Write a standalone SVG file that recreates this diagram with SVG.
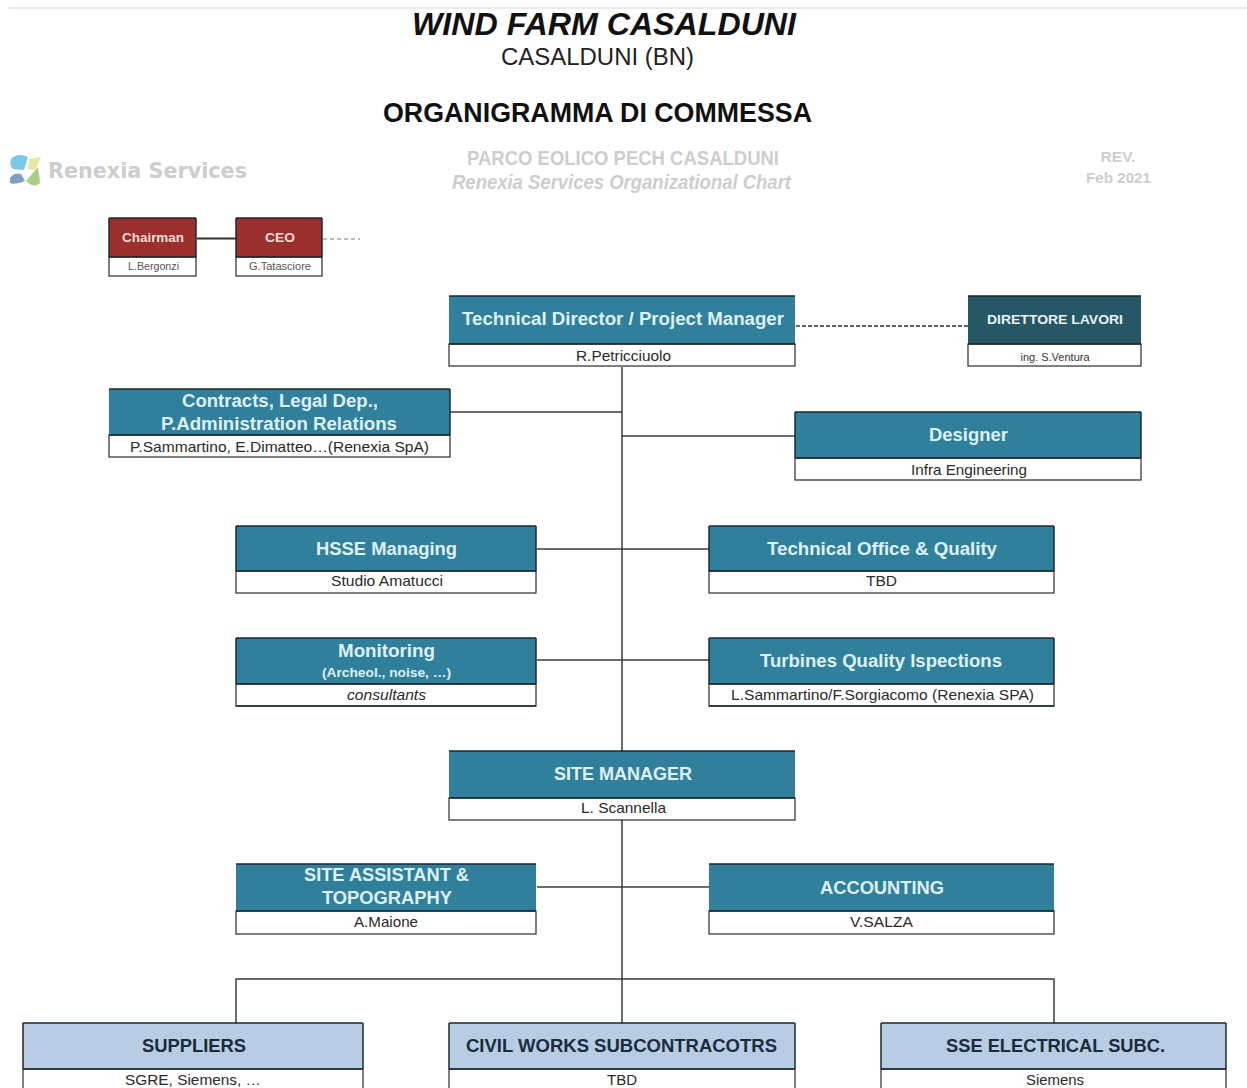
<svg xmlns="http://www.w3.org/2000/svg" width="1247" height="1088" viewBox="0 0 1247 1088">
<style>
text{font-family:"Liberation Sans",Arial,sans-serif;text-anchor:middle}
.hd{stroke:#1c2a30;stroke-width:1.5;fill:none}
.b{fill:#fff;stroke:#2b2b2b;stroke-width:1.2}
.t{fill:#30809c}.r{fill:#9a2f2c}.d{fill:#265765}.l{fill:#b8cce4}
.w{fill:#dff0f4;font-weight:bold;font-size:18px}
.k{fill:#1a2b3c;font-weight:bold;font-size:18px}
.s{fill:#2a2a2a;font-size:14.5px}
.c{fill:none;stroke:#3d3d3d;stroke-width:1.5}
.g{fill:#cdcdcd;font-weight:bold}
</style>
<rect width="1247" height="1088" fill="#fff"/>
<path d="M9 8H1247" stroke="#d8d8d8" fill="none"/>
<text x="604" y="35" font-size="32" font-weight="bold" font-style="italic" fill="#111" textLength="384" lengthAdjust="spacingAndGlyphs">WIND FARM CASALDUNI</text>
<text x="597.500" y="65" font-size="23" fill="#222" textLength="193" lengthAdjust="spacingAndGlyphs">CASALDUNI (BN)</text>
<text x="597.500" y="122" font-size="27" font-weight="bold" fill="#111" textLength="429" lengthAdjust="spacingAndGlyphs">ORGANIGRAMMA DI COMMESSA</text>
<g id="logo">
<path d="M11 159Q18 152 28 157L24 170L13 169Q9 165 11 159Z" fill="#7cc6e6"/>
<path d="M29 159L41 157L35 170L28 169Z" fill="#e6e6a0"/>
<path d="M10 178Q14 172 21 174L25 181Q14 185 10 183Z" fill="#7f9fc6"/>
<path d="M26 181L38 167L40 183Q34 189 26 181Z" fill="#a8d088"/>
<text x="147.500" y="178" class="g" style="font-family:'DejaVu Sans',sans-serif;font-size:21.500px" textLength="199" lengthAdjust="spacingAndGlyphs">Renexia Services</text>
</g>
<text x="623" y="165" font-size="19.500" class="g" textLength="312" lengthAdjust="spacingAndGlyphs">PARCO EOLICO PECH CASALDUNI</text>
<text x="621.500" y="189" font-size="19.500" class="g" font-style="italic" textLength="339" lengthAdjust="spacingAndGlyphs">Renexia Services Organizational Chart</text>
<text x="1118" y="162" font-size="15" class="g" textLength="35" lengthAdjust="spacingAndGlyphs">REV.</text>
<text x="1118.500" y="183" font-size="15" class="g" textLength="65" lengthAdjust="spacingAndGlyphs">Feb 2021</text>
<g id="connectors">
<path class="c" d="M622 367V1023M450 412H622M622 436H795M537 549H709M537 660H709M537 887H709M236 1023V979H1054V1023"/>
<path d="M197 238.500H236" fill="none" stroke="#333" stroke-width="2"/>
<path d="M796 326H968" fill="none" stroke="#333" stroke-width="1.300" stroke-dasharray="4 2"/>
<path d="M323 239H360" fill="none" stroke="#777" stroke-width="1.200" stroke-dasharray="4 3"/>
</g>
<g id="chairman"><rect class="r" x="109" y="218" width="87" height="39"/><rect class="b" x="109" y="257" width="87" height="19"/><path class="hd" d="M109 218H196M109 257H196M109 218V257M196 218V257"/><text x="153" y="242" font-size="13" font-weight="bold" fill="#f4dcdc" textLength="62" lengthAdjust="spacingAndGlyphs">Chairman</text><text x="153.500" y="270" font-size="10.500" fill="#555" textLength="51" lengthAdjust="spacingAndGlyphs">L.Bergonzi</text></g>
<g id="ceo"><rect class="r" x="236" y="218" width="86" height="39"/><rect class="b" x="236" y="257" width="86" height="19"/><path class="hd" d="M236 218H322M236 257H322M236 218V257M322 218V257"/><text x="280" y="242" font-size="13" font-weight="bold" fill="#f4dcdc" textLength="30" lengthAdjust="spacingAndGlyphs">CEO</text><text x="280" y="270" font-size="10.500" fill="#555" textLength="62" lengthAdjust="spacingAndGlyphs">G.Tatasciore</text></g>
<g id="technical-director"><rect class="t" x="449" y="296" width="346" height="48"/><rect class="b" x="449" y="344" width="346" height="22"/><path class="hd" d="M449 296H795M449 344H795"/><text x="623" y="325" class="w" textLength="322" lengthAdjust="spacingAndGlyphs">Technical Director / Project Manager</text><text x="623.500" y="361" class="s" textLength="95" lengthAdjust="spacingAndGlyphs">R.Petricciuolo</text></g>
<g id="direttore-lavori"><rect class="d" x="968" y="296" width="173" height="48"/><rect class="b" x="968" y="344" width="173" height="22"/><path class="hd" d="M968 296H1141M968 344H1141"/><text x="1055" y="324" font-size="13" font-weight="bold" fill="#e8f2f5" textLength="136" lengthAdjust="spacingAndGlyphs">DIRETTORE LAVORI</text><text x="1055" y="361" font-size="11" fill="#333">ing. S.Ventura</text></g>
<g id="contracts"><rect class="t" x="109" y="389" width="341" height="46"/><rect class="b" x="109" y="435" width="341" height="22"/><path class="hd" d="M109 389H450M109 435H450M450 389V435"/><text x="280" y="407" class="w" textLength="196" lengthAdjust="spacingAndGlyphs">Contracts, Legal Dep.,</text><text x="279" y="430" class="w" textLength="236" lengthAdjust="spacingAndGlyphs">P.Administration Relations</text><text x="279.500" y="452" class="s" textLength="299" lengthAdjust="spacingAndGlyphs">P.Sammartino, E.Dimatteo…(Renexia SpA)</text></g>
<g id="designer"><rect class="t" x="795" y="412" width="346" height="46"/><rect class="b" x="795" y="458" width="346" height="22"/><path class="hd" d="M795 412H1141M795 458H1141M795 412V458M1141 412V458"/><text x="968.500" y="441" class="w" textLength="79" lengthAdjust="spacingAndGlyphs">Designer</text><text x="969" y="475" class="s" textLength="116" lengthAdjust="spacingAndGlyphs">Infra Engineering</text></g>
<g id="hsse"><rect class="t" x="236" y="526" width="300" height="45"/><rect class="b" x="236" y="571" width="300" height="22"/><path class="hd" d="M236 526H536M236 571H536M236 526V571M536 526V571"/><text x="386.500" y="555" class="w" textLength="141" lengthAdjust="spacingAndGlyphs">HSSE Managing</text><text x="387" y="586" class="s" textLength="112" lengthAdjust="spacingAndGlyphs">Studio Amatucci</text></g>
<g id="technical-office"><rect class="t" x="709" y="526" width="345" height="45"/><rect class="b" x="709" y="571" width="345" height="22"/><path class="hd" d="M709 526H1054M709 571H1054M709 526V571M1054 526V571"/><text x="882" y="555" class="w" textLength="230" lengthAdjust="spacingAndGlyphs">Technical Office &amp; Quality</text><text x="881.500" y="586" class="s" textLength="31" lengthAdjust="spacingAndGlyphs">TBD</text></g>
<g id="monitoring"><rect class="t" x="236" y="638" width="300" height="46"/><rect class="b" x="236" y="684" width="300" height="22"/><path class="hd" d="M236 638H536M236 684H536M236 706H536M236 638V684M536 638V684"/><text x="386.500" y="657" class="w" textLength="97" lengthAdjust="spacingAndGlyphs">Monitoring</text><text x="386.500" y="677" font-size="12" font-weight="bold" fill="#dff0f4" textLength="129" lengthAdjust="spacingAndGlyphs">(Archeol., noise, …)</text><text x="386.500" y="700" class="s" font-style="italic" textLength="79" lengthAdjust="spacingAndGlyphs">consultants</text></g>
<g id="turbines"><rect class="t" x="709" y="638" width="345" height="46"/><rect class="b" x="709" y="684" width="345" height="22"/><path class="hd" d="M709 638H1054M709 684H1054M709 706H1054M709 638V684M1054 638V684"/><text x="881" y="667" class="w" textLength="242" lengthAdjust="spacingAndGlyphs">Turbines Quality Ispections</text><text x="882.500" y="700" class="s" textLength="303" lengthAdjust="spacingAndGlyphs">L.Sammartino/F.Sorgiacomo (Renexia SPA)</text></g>
<g id="site-manager"><rect class="t" x="449" y="751" width="346" height="47"/><rect class="b" x="449" y="798" width="346" height="22"/><path class="hd" d="M449 751H795M449 798H795"/><text x="623" y="780" class="w">SITE MANAGER</text><text x="623.500" y="813" class="s" textLength="85" lengthAdjust="spacingAndGlyphs">L. Scannella</text></g>
<g id="site-assistant"><rect class="t" x="236" y="864" width="300" height="47"/><rect class="b" x="236" y="911" width="300" height="23"/><path class="hd" d="M236 864H536M236 911H536"/><text x="386.500" y="881" class="w" textLength="165" lengthAdjust="spacingAndGlyphs">SITE ASSISTANT &amp;</text><text x="387" y="904" class="w" textLength="130" lengthAdjust="spacingAndGlyphs">TOPOGRAPHY</text><text x="386" y="927" class="s" textLength="64" lengthAdjust="spacingAndGlyphs">A.Maione</text></g>
<g id="accounting"><rect class="t" x="709" y="864" width="345" height="47"/><rect class="b" x="709" y="911" width="345" height="23"/><path class="hd" d="M709 864H1054M709 911H1054"/><text x="882" y="894" class="w" textLength="124" lengthAdjust="spacingAndGlyphs">ACCOUNTING</text><text x="881.500" y="927" class="s" textLength="63" lengthAdjust="spacingAndGlyphs">V.SALZA</text></g>
<g id="suppliers"><rect class="l" x="23" y="1023" width="340" height="46"/><rect class="b" x="23" y="1069" width="340" height="30"/><path class="hd" d="M23 1023H363M23 1069H363M23 1023V1069M363 1023V1069"/><text x="194" y="1052" class="k" textLength="104" lengthAdjust="spacingAndGlyphs">SUPPLIERS</text><text x="193" y="1085" class="s" textLength="136" lengthAdjust="spacingAndGlyphs">SGRE, Siemens, …</text></g>
<g id="civil-works"><rect class="l" x="449" y="1023" width="346" height="46"/><rect class="b" x="449" y="1069" width="346" height="30"/><path class="hd" d="M449 1023H795M449 1069H795M449 1023V1069M795 1023V1069"/><text x="621.500" y="1052" class="k" textLength="311" lengthAdjust="spacingAndGlyphs">CIVIL WORKS SUBCONTRACOTRS</text><text x="622" y="1085" class="s" textLength="30" lengthAdjust="spacingAndGlyphs">TBD</text></g>
<g id="sse-electrical"><rect class="l" x="881" y="1023" width="345" height="46"/><rect class="b" x="881" y="1069" width="345" height="30"/><path class="hd" d="M881 1023H1226M881 1069H1226M881 1023V1069M1226 1023V1069"/><text x="1055.500" y="1052" class="k" textLength="219" lengthAdjust="spacingAndGlyphs">SSE ELECTRICAL SUBC.</text><text x="1055" y="1085" class="s" textLength="58" lengthAdjust="spacingAndGlyphs">Siemens</text></g>
</svg>
